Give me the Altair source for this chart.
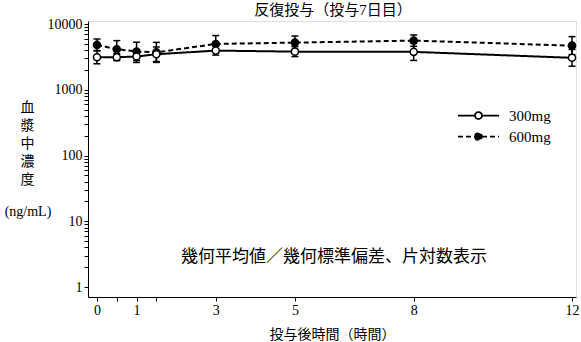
import altair as alt
import pandas as pd

# ---- data ----
times = [0, 0.5, 1, 1.5, 3, 5, 8, 12]
series = ["300mg", "600mg"]
mean_300 = [3130, 3130, 3200, 3470, 3940, 3800, 3770, 3060]
gsd_300 = [1.26, 1.13, 1.23, 1.29, 1.17, 1.19, 1.35, 1.34]
mean_600 = [4810, 4140, 3830, 3700, 4980, 5210, 5590, 4690]
gsd_600 = [1.23, 1.35, 1.38, 1.42, 1.34, 1.26, 1.22, 1.37]

x_ticks = [0, 0.5, 1, 1.5, 3, 5, 8, 12]
x_labels = [0, 1, 3, 5, 8, 12]
y_major = [1, 10, 100, 1000, 10000]
y_minor_mult = [1, 2, 3, 4, 5, 6, 7, 8, 9]

title_text = "反復投与（投与7日目）"
x_title = "投与後時間（時間）"
y_title = ["血", "漿", "中", "濃", "度"]
y_unit = "(ng/mL)"
note_text = "幾何平均値／幾何標準偏差、片対数表示"

# ---- build table (600mg first so 300mg draws on top) ----
rows = []
for name, means, gsds in [("600mg", mean_600, gsd_600), ("300mg", mean_300, gsd_300)]:
    for t, m, g in zip(times, means, gsds):
        rows.append({"time": t, "mean": m, "lo": m / g, "hi": m * g, "series": name})
df = pd.DataFrame(rows)

y_ticks = [m * d for d in y_major[:-1] for m in y_minor_mult] + [y_major[-1]]

FONT = "Liberation Serif, Noto Sans CJK JP"
CJK = "Noto Sans CJK JP"

xscale = alt.Scale(domain=[-0.227, 12.1], nice=False, zero=False)
yscale = alt.Scale(type="log", domain=[0.705, 11110], nice=False)

xaxis = alt.Axis(
    values=x_ticks,
    labelExpr="indexof(" + str(x_labels) + ", datum.value) >= 0 ? datum.label : ''",
    tickSize=4, labelPadding=2, grid=False,
    labelFont=FONT, labelFontSize=14, labelColor="black",
    domainColor="black", tickColor="black",
    title=x_title, titleFont=FONT, titleFontSize=14, titleFontWeight="normal",
    titleColor="black", titlePadding=10,
)
yaxis = alt.Axis(
    values=y_ticks, format="d",
    labelExpr="indexof(" + str(y_major) + ", datum.value) >= 0 ? datum.label : ''",
    tickSize=4, labelPadding=2, grid=False,
    labelFont=FONT, labelFontSize=14, labelColor="black",
    domainColor="black", tickColor="black",
    title=y_title, titleAngle=0, titleAlign="center", titleBaseline="top",
    titleX=-61, titleY=79, titleFont=FONT, titleFontSize=14,
    titleFontWeight="normal", titleColor="black", titleLineHeight=18,
)

legend_path = ("M-1,0L-0.17,0M0.17,0L1,0M-0.17,0A0.17,0.17,0,1,1,0.17,0"
               "A0.17,0.17,0,1,1,-0.17,0Z")


def make_legend():
    return alt.Legend(
        title=None, orient="none", legendX=369, legendY=86,
        symbolType=legend_path, symbolSize=1681,
        symbolStrokeColor="black", symbolStrokeWidth=1.75,
        labelFont=FONT, labelFontSize=15, labelColor="black",
        labelOffset=9, rowPadding=4, clipHeight=17, padding=0,
    )


base = alt.Chart(df)
x = alt.X("time:Q", scale=xscale, axis=xaxis)

err = base.mark_rule(color="black", strokeWidth=1.5).encode(
    x=x, y=alt.Y("lo:Q", scale=yscale, axis=yaxis), y2="hi:Q"
)
cap_lo = base.mark_point(shape="M-1,0L1,0", size=49, filled=False, stroke="black",
                         strokeWidth=1.5, opacity=1).encode(
    x=x, y=alt.Y("lo:Q", scale=yscale)
)
cap_hi = base.mark_point(shape="M-1,0L1,0", size=49, filled=False, stroke="black",
                         strokeWidth=1.5, opacity=1).encode(
    x=x, y=alt.Y("hi:Q", scale=yscale)
)
lines = base.mark_line(color="black", strokeWidth=2).encode(
    x=x, y=alt.Y("mean:Q", scale=yscale),
    strokeDash=alt.StrokeDash("series:N",
                              scale=alt.Scale(domain=series, range=[[1, 0], [5, 3]]),
                              legend=make_legend()),
)
points = base.mark_point(shape="circle", size=50, filled=True, stroke="black",
                         strokeWidth=1.5, opacity=1).encode(
    x=x, y=alt.Y("mean:Q", scale=yscale),
    fill=alt.Fill("series:N",
                  scale=alt.Scale(domain=series, range=["white", "black"]),
                  legend=make_legend()),
)
note = alt.Chart(pd.DataFrame({"t": [note_text]})).mark_text(
    font=CJK, fontSize=17, color="black", align="center", baseline="middle"
).encode(text="t:N", x=alt.value(246), y=alt.value(236))

title = alt.Chart(pd.DataFrame({"t": [title_text]})).mark_text(
    font=FONT, fontSize=15, color="black", align="center", baseline="middle"
).encode(text="t:N", x=alt.value(245), y=alt.value(-11))

unit = alt.Chart(pd.DataFrame({"t": [y_unit]})).mark_text(
    font=FONT, fontSize=14, color="black", align="center", baseline="middle"
).encode(text="t:N", x=alt.value(-60), y=alt.value(191))

chart = alt.layer(err, cap_lo, cap_hi, lines, points, note, title, unit).properties(
    width=488, height=276,
    padding={"left": 88, "top": 21, "right": 5, "bottom": 45},
    autosize=alt.AutoSizeParams(type="none"),
).configure_view(stroke=None).configure(background="white")

chart.save("out.html", embed_options={"renderer": "svg", "actions": False})
